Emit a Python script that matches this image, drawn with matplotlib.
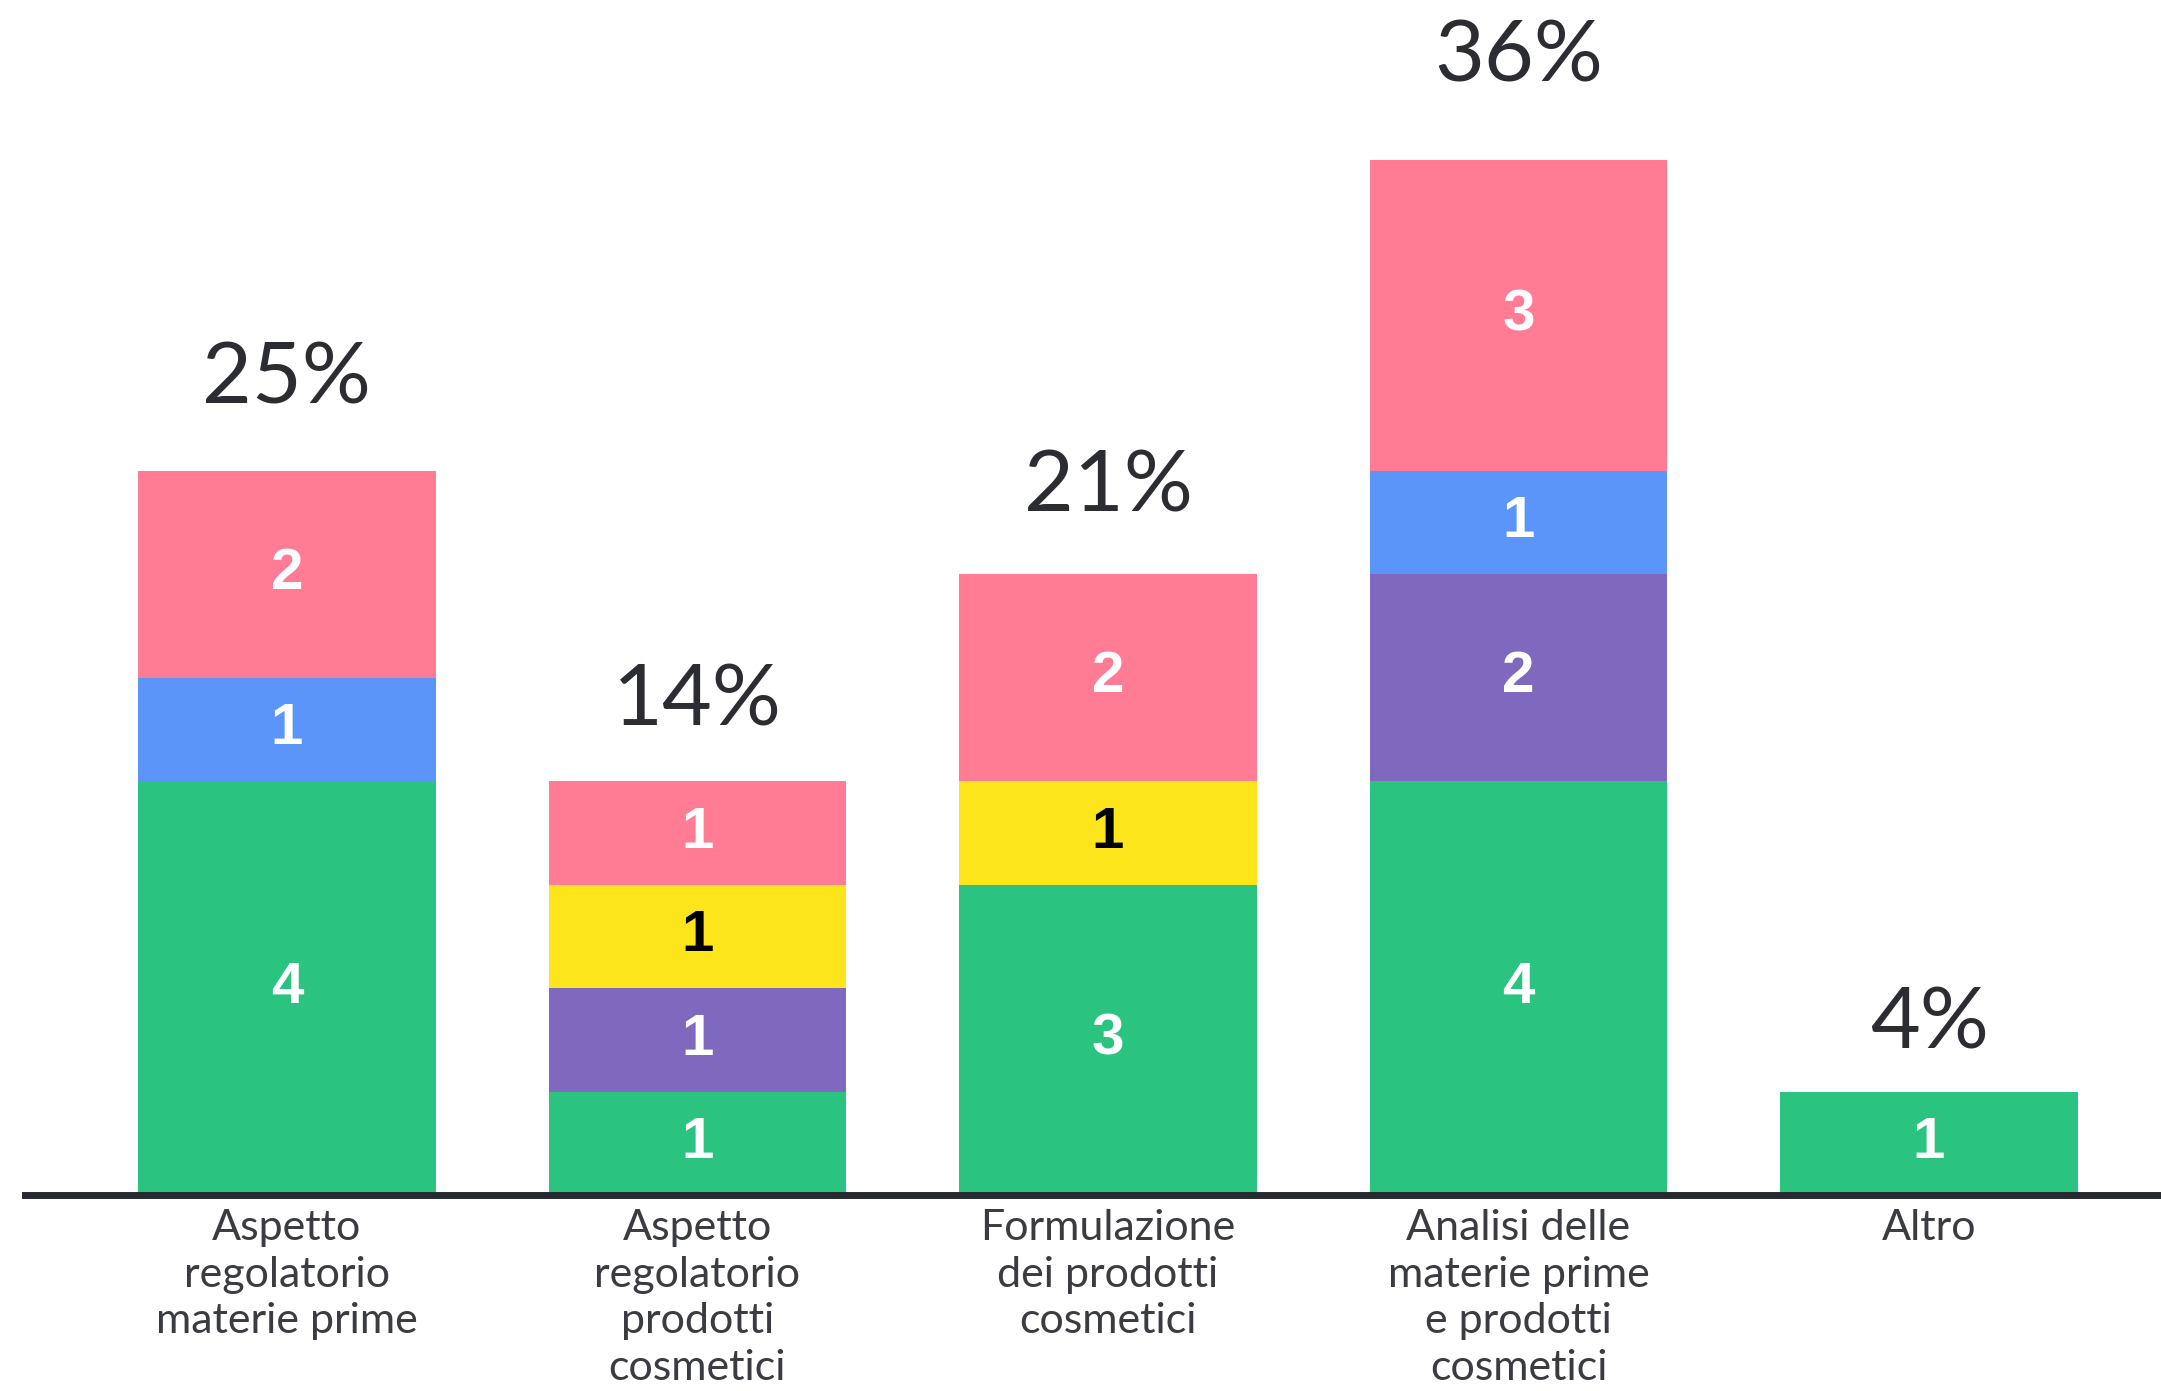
import matplotlib.pyplot as plt
import numpy as np

# dati
categorie = [
    "Aspetto\nregolatorio\nmaterie prime",
    "Aspetto\nregolatorio\nprodotti\ncosmetici",
    "Formulazione\ndei prodotti\ncosmetici",
    "Analisi delle\nmaterie prime\ne prodotti\ncosmetici",
    "Altro",
]
verde = [4, 1, 3, 4, 1]
viola = [0, 1, 0, 2, 0]
giallo = [0, 1, 1, 0, 0]
blu = [1, 0, 0, 1, 0]
rosa = [2, 1, 2, 3, 0]
percentuali = ["25%", "14%", "21%", "36%", "4%"]

serie = [
    (verde, "#2AC37F", "white"),
    (viola, "#7E69BF", "white"),
    (giallo, "#FDE51B", "black"),
    (blu, "#5B95FA", "white"),
    (rosa, "#FF7C94", "white"),
]

W, H = 2161, 1391
fig = plt.figure(figsize=(W / 100, H / 100), dpi=100)
ax = fig.add_axes([25 / W, 196 / H, 1 - 25 / W, 1 - 196 / H])

x = np.arange(len(categorie))
bottom = np.zeros(len(categorie))
for valori, colore, col_testo in serie:
    valori = np.array(valori)
    bars = ax.bar(x, valori, bottom=bottom, width=0.724, color=colore, linewidth=0, zorder=2)
    for b, v, y0 in zip(bars, valori, bottom):
        if v > 0:
            ax.text(b.get_x() + b.get_width() / 2, y0 + v / 2, str(v),
                    ha="center", va="center", fontsize=42, fontweight="bold",
                    color=col_testo, family="Liberation Sans", zorder=3)
    bottom = bottom + valori

# la distanza dell'etichetta cresce un po' con l'altezza della barra
for xi, tot, p in zip(x, bottom, percentuali):
    ax.text(xi, tot + 0.42 + 0.0375 * (tot - 1), p, ha="center", va="baseline",
            fontsize=62, color="#2B2D33", family="Lato")

ax.set_xlim(-0.638, 4.565)
ax.set_ylim(0, (H - 196) / 103.5)
ax.set_xticks(x)
ax.set_xticklabels(categorie, fontsize=31, color="#3A3C42", family="Lato", linespacing=1.28)
ax.tick_params(axis="x", length=0, pad=10)
ax.set_yticks([])
for s in ["top", "right", "left"]:
    ax.spines[s].set_visible(False)
ax.spines["bottom"].set_linewidth(5)
ax.spines["bottom"].set_color("#272A30")
ax.spines["bottom"].set_zorder(4)

fig.savefig("out.png", dpi=100)
